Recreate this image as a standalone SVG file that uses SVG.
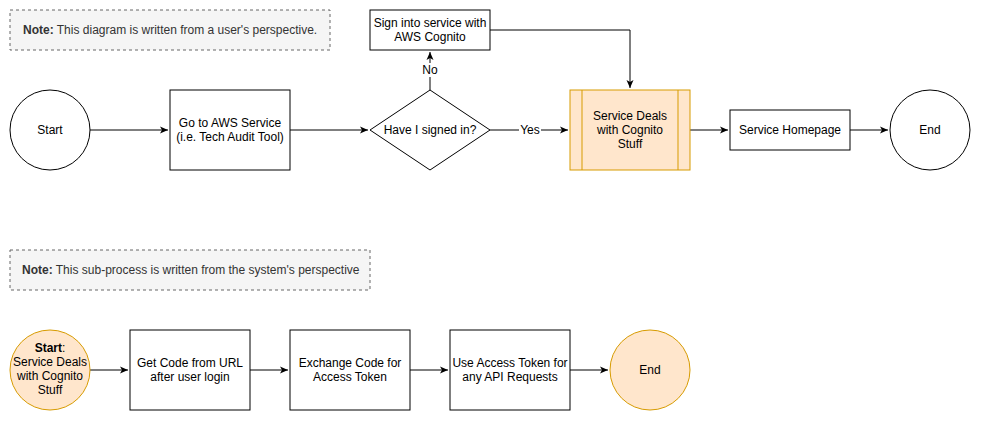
<svg xmlns="http://www.w3.org/2000/svg" width="987" height="427" viewBox="0 0 987 427">
<style>
.n{fill:#fff;stroke:#000;stroke-width:1}
.o{fill:#ffe6cc;stroke:#d79b00;stroke-width:1}
.note{fill:#f5f5f5;stroke:#666;stroke-dasharray:3 3}
text{font-family:"Liberation Sans",Arial,sans-serif;font-size:12px;fill:#000;text-anchor:middle}
.l{text-anchor:start;fill:#333}
.c{fill:none;stroke:#000;stroke-width:1;marker-end:url(#a)}
.lb{fill:#fff}
</style>
<defs><marker id="a" markerWidth="10" markerHeight="10" refX="8" refY="5" orient="auto" markerUnits="userSpaceOnUse"><path d="M0,1.5 L8,5 L0,8.5 L2,5 Z" fill="#000"/></marker></defs>
<g id="connectors">
<path class="c" d="M90,130 H168"/>
<path class="c" d="M290,130 H368"/>
<path class="c" d="M490,130 H568"/>
<path class="c" d="M430,90 V52"/>
<path class="c" d="M490,30 H630 V88"/>
<path class="c" d="M690,130 H728"/>
<path class="c" d="M850,130 H888"/>
<path class="c" d="M90,370 H128"/>
<path class="c" d="M250,370 H288"/>
<path class="c" d="M410,370 H448"/>
<path class="c" d="M570,370 H608"/>
<rect class="lb" x="421" y="63" width="18" height="14"/><text x="430" y="74" font-size="11">No</text>
<rect class="lb" x="519" y="123" width="22" height="14"/><text x="530" y="134" font-size="11">Yes</text>
</g>
<g id="note1"><rect class="note" x="10" y="10" width="320" height="40"/><text class="l" x="23" y="34"><tspan font-weight="bold">Note:</tspan> This diagram is written from a user's perspective.</text></g>
<g id="start"><circle class="n" cx="50" cy="130" r="40"/><text x="50" y="134">Start</text></g>
<g id="goto"><rect class="n" x="170" y="90" width="120" height="80"/><text x="230" y="127">Go to AWS Service</text><text x="230" y="141">(i.e. Tech Audit Tool)</text></g>
<g id="signed"><path class="n" d="M430,90 L490,130 L430,170 L370,130 Z"/><text x="430" y="134">Have I signed in?</text></g>
<g id="signinto"><rect class="n" x="370" y="10" width="120" height="40"/><text x="430" y="27">Sign into service with</text><text x="430" y="41">AWS Cognito</text></g>
<g id="deals"><rect class="o" x="570" y="90" width="120" height="80"/><path d="M582,90 V170 M678,90 V170" stroke="#d79b00"/><text x="630" y="120">Service Deals</text><text x="630" y="134">with Cognito</text><text x="630" y="148">Stuff</text></g>
<g id="home"><rect class="n" x="730" y="110" width="120" height="40"/><text x="790" y="134">Service Homepage</text></g>
<g id="end"><circle class="n" cx="930" cy="130" r="40"/><text x="930" y="134">End</text></g>
<g id="note2"><rect class="note" x="10" y="250" width="360" height="40"/><text class="l" x="22" y="274"><tspan font-weight="bold">Note:</tspan> This sub-process is written from the system's perspective</text></g>
<g id="start2"><circle class="o" cx="50" cy="370" r="40"/><text x="50" y="352"><tspan font-weight="bold">Start</tspan>:</text><text x="50" y="366">Service Deals</text><text x="50" y="380">with Cognito</text><text x="50" y="394">Stuff</text></g>
<g id="getcode"><rect class="n" x="130" y="330" width="120" height="80"/><text x="190" y="367">Get Code from URL</text><text x="190" y="381">after user login</text></g>
<g id="exchange"><rect class="n" x="290" y="330" width="120" height="80"/><text x="350" y="367">Exchange Code for</text><text x="350" y="381">Access Token</text></g>
<g id="use"><rect class="n" x="450" y="330" width="120" height="80"/><text x="510" y="367">Use Access Token for</text><text x="510" y="381">any API Requests</text></g>
<g id="end2"><circle class="o" cx="650" cy="370" r="40"/><text x="650" y="374">End</text></g>
</svg>
